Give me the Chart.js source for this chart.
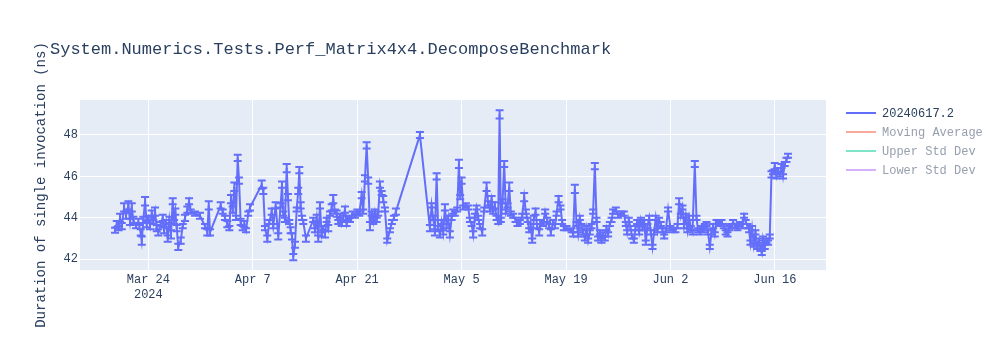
<!DOCTYPE html>
<html>
<head>
<meta charset="utf-8">
<title>System.Numerics.Tests.Perf_Matrix4x4.DecomposeBenchmark</title>
<script src="https://cdn.jsdelivr.net/npm/chart.js@4.4.1/dist/chart.umd.min.js"></script>
<style>
  html, body { margin: 0; padding: 0; background: #ffffff; }
  #wrap { position: relative; width: 1000px; height: 350px; font-family: 'Liberation Mono', 'Courier New', monospace; }
  #chart { position: absolute; left: 0; top: 0; }
  #title { position: absolute; left: 50px; top: 40px; font-size: 17px; line-height: 20px; color: #2a3f5f; white-space: pre; }
  .leg { position: absolute; left: 846px; height: 14px; font-size: 12px; line-height: 14px; white-space: pre; }
  .leg i { display: inline-block; width: 30px; height: 0; border-top: 2px solid; vertical-align: middle; margin-right: 6px; position: relative; top: -1px; }
</style>
</head>
<body>
<div id="wrap">
  <canvas id="chart" width="1000" height="350"></canvas>
  <div id="title">System.Numerics.Tests.Perf_Matrix4x4.DecomposeBenchmark</div>
  <div class="leg" style="top:107px;color:#2a3f5f"><i style="border-color:#636efa"></i>20240617.2</div>
  <div class="leg" style="top:126px;color:#959fad"><i style="border-color:#f7aa9d"></i>Moving Average</div>
  <div class="leg" style="top:145px;color:#959fad"><i style="border-color:#7fe5ca"></i>Upper Std Dev</div>
  <div class="leg" style="top:164px;color:#959fad"><i style="border-color:#d5b1fc"></i>Lower Std Dev</div>
</div>
<script>
// Run time of each benchmark run, in days after 2024-03-01 00:00
const runDay = [
  18.54, 18.77, 18.98, 19.21, 19.44, 19.75, 20.01, 20.32, 20.55, 20.78,
  20.99, 21.35, 21.66, 21.98, 22.12, 22.33, 22.56, 22.79, 23.00, 23.23,
  23.46, 23.67, 23.90, 24.13, 24.34, 24.66, 24.93, 25.11, 25.37, 25.60,
  25.82, 26.04, 26.27, 26.45, 26.62, 26.81, 27.02, 27.34, 27.61, 27.92,
  28.23, 28.46, 28.68, 29.26, 29.93, 30.60, 30.91, 31.10, 31.27, 32.70,
  32.97, 33.28, 33.59, 33.86, 34.08, 34.31, 34.53, 34.75, 34.98, 35.16,
  35.38, 35.65, 35.87, 36.09, 36.40, 36.63, 38.20, 38.41, 38.64, 38.95,
  39.22, 39.54, 39.75, 40.07, 40.42, 40.74, 40.92, 41.09, 41.32, 41.55,
  41.72, 41.90, 42.08, 42.26, 42.43, 42.66, 42.89, 43.10, 43.24, 43.42,
  43.60, 43.77, 44.13, 45.11, 45.34, 45.57, 45.78, 46.01, 46.24, 46.45,
  46.68, 46.91, 47.12, 47.35, 47.58, 47.79, 48.02, 48.25, 48.46, 48.69,
  48.92, 49.13, 49.36, 49.59, 49.80, 50.03, 50.39, 50.70, 51.01, 51.28,
  51.60, 51.81, 52.04, 52.27, 52.48, 52.71, 52.94, 53.15, 53.38, 53.61,
  53.82, 54.05, 54.28, 54.49, 54.72, 55.03, 55.39, 55.66, 55.93, 56.19,
  59.41, 60.75, 60.98, 61.19, 61.42, 61.65, 61.86, 62.09, 62.32, 62.53,
  62.76, 62.99, 63.20, 63.43, 63.66, 63.87, 64.10, 64.41, 64.64, 64.81,
  65.00, 65.21, 65.57, 65.88, 66.11, 66.34, 66.55, 66.78, 67.01, 67.22,
  67.45, 67.76, 68.03, 68.35, 68.56, 68.79, 69.02, 69.23, 69.46, 69.69,
  69.90, 70.09, 70.26, 70.49, 70.71, 70.93, 71.16, 71.38, 71.60, 71.91,
  72.23, 72.50, 72.81, 73.12, 73.39, 73.61, 73.84, 74.06, 74.28, 74.46,
  74.69, 74.91, 75.13, 75.40, 75.62, 75.93, 76.20, 76.47, 76.74, 76.96,
  77.27, 77.50, 77.73, 78.00, 78.26, 78.48, 78.71, 79.07, 79.74, 79.95,
  80.18, 80.41, 80.62, 80.85, 81.08, 81.29, 81.52, 81.75, 81.96, 82.19,
  82.42, 82.63, 82.86, 83.09, 83.30, 83.53, 83.76, 83.97, 84.20, 84.43,
  84.64, 84.87, 85.10, 85.31, 85.67, 85.98, 86.44, 86.75, 87.01, 87.19,
  87.42, 87.64, 87.86, 88.09, 88.31, 88.53, 88.80, 89.02, 89.25, 89.47,
  89.69, 89.92, 90.14, 90.36, 90.59, 90.81, 91.03, 91.26, 91.48, 91.70,
  91.93, 92.15, 92.37, 92.68, 93.00, 93.35, 93.67, 93.94, 94.16, 94.38,
  94.61, 94.83, 95.05, 95.28, 95.50, 95.72, 95.95, 96.26, 96.49, 96.70,
  96.93, 97.16, 97.37, 97.60, 97.83, 98.04, 98.27, 98.50, 98.71, 98.94,
  99.17, 99.48, 99.84, 100.15, 100.41, 100.64, 100.86, 101.18, 101.39, 101.71,
  101.98, 102.29, 102.60, 102.87, 103.09, 103.32, 103.54, 103.72, 103.94, 104.17,
  104.39, 104.61, 104.84, 105.07, 105.24, 105.41, 105.64, 105.87, 106.08, 106.31,
  106.54, 106.75, 106.98, 107.21, 107.42, 107.65, 107.88, 108.09, 108.32, 108.55,
  108.76
];

// Mean duration of a single invocation (ns) for each run
const duration = [
  43.4, 43.7, 43.5, 44.0, 43.6, 44.5, 44.1, 44.6, 43.8, 44.5,
  43.9, 43.6, 43.8, 43.3, 42.9, 43.9, 44.8, 43.7, 44.0, 43.6,
  44.2, 43.8, 44.3, 43.5, 43.3, 43.7, 44.0, 43.4, 43.8, 43.0,
  43.9, 43.2, 44.8, 43.8, 44.3, 43.5, 42.6, 42.9, 43.6, 44.0,
  44.4, 44.8, 44.3, 44.2, 44.1, 43.6, 43.3, 44.6, 43.3, 44.6,
  44.3, 44.0, 43.7, 43.5, 44.9, 44.4, 45.5, 44.0, 46.9, 45.8,
  43.8, 43.5, 43.7, 43.4, 44.2, 44.5, 45.6, 45.3, 43.5, 43.0,
  43.8, 44.3, 43.6, 44.6, 43.1, 44.6, 45.6, 44.2, 43.9, 46.4,
  45.0, 43.8, 43.4, 43.1, 42.1, 42.7, 44.4, 45.3, 46.3, 44.6,
  44.0, 43.8, 43.0, 43.9, 43.4, 44.0, 43.0, 44.6, 43.2, 43.5,
  43.2, 43.9, 43.5, 44.2, 44.5, 44.9, 44.3, 44.2, 43.8, 44.1,
  43.7, 44.0, 44.4, 43.7, 44.0, 43.9, 44.2, 44.1, 44.3, 44.2,
  45.1, 44.3, 45.9, 47.5, 45.8, 43.6, 44.2, 43.8, 44.3, 43.9,
  44.2, 45.6, 45.2, 44.9, 44.4, 42.9, 43.4, 43.8, 44.0, 44.3,
  48.0, 43.5, 44.6, 44.0, 43.3, 46.0, 43.5, 43.2, 43.8, 43.3,
  44.5, 43.6, 44.0, 43.2, 44.0, 44.3, 44.2, 44.4, 46.6, 45.0,
  45.8, 44.5, 44.6, 44.5, 43.9, 43.7, 43.2, 44.1, 44.5, 44.0,
  43.6, 43.3, 44.4, 45.5, 44.7, 44.4, 44.9, 44.3, 44.6, 44.0,
  43.8, 49.0, 43.9, 44.8, 46.6, 44.3, 44.6, 45.5, 44.2, 44.1,
  43.9, 43.7, 43.8, 44.1, 45.0, 44.3, 43.9, 43.4, 43.6, 42.9,
  44.0, 44.3, 43.6, 43.3, 43.8, 43.7, 44.3, 43.9, 43.6, 43.3,
  43.8, 43.6, 44.2, 44.9, 44.5, 43.8, 43.5, 43.5, 43.4, 43.2,
  45.4, 43.7, 43.2, 44.0, 43.6, 43.3, 43.0, 43.5, 42.9, 43.3,
  43.6, 44.3, 46.5, 43.9, 43.0, 43.3, 42.9, 43.2, 43.0, 43.5,
  43.2, 43.7, 43.9, 44.3, 44.4, 44.1, 44.2, 44.2, 43.7, 43.3,
  43.9, 43.5, 43.1, 42.9, 43.5, 43.8, 43.3, 43.9, 43.5, 43.8,
  42.8, 43.6, 44.0, 43.3, 42.6, 43.3, 44.0, 43.4, 43.9, 43.7,
  43.4, 43.1, 43.4, 44.4, 43.5, 43.4, 43.4, 43.6, 44.8, 44.1,
  44.5, 43.6, 44.1, 43.4, 44.0, 43.5, 43.3, 46.6, 44.0, 43.4,
  43.3, 43.5, 43.4, 43.6, 43.7, 43.3, 42.6, 43.3, 43.6, 43.2,
  43.8, 43.7, 43.8, 43.6, 43.3, 43.2, 43.5, 43.6, 43.8, 43.6,
  43.5, 43.7, 43.6, 44.1, 43.8, 43.6, 43.4, 42.8, 43.5, 42.7,
  43.3, 42.6, 42.9, 42.5, 42.3, 43.0, 42.6, 42.9, 42.8, 43.1,
  46.1, 46.2, 46.5, 46.0, 46.3, 46.1, 46.5, 46.0, 46.6, 46.8,
  47.0
];

// Half-width of the error bar on each run (ns)
const durationErr = [
  0.12, 0.15, 0.10, 0.20, 0.15, 0.20, 0.15, 0.20, 0.15, 0.20,
  0.15, 0.10, 0.15, 0.15, 0.20, 0.15, 0.20, 0.15, 0.10, 0.15,
  0.15, 0.10, 0.20, 0.15, 0.15, 0.10, 0.15, 0.15, 0.10, 0.15,
  0.15, 0.20, 0.15, 0.10, 0.15, 0.15, 0.15, 0.15, 0.10, 0.15,
  0.15, 0.15, 0.10, 0.10, 0.15, 0.10, 0.15, 0.20, 0.15, 0.15,
  0.10, 0.10, 0.15, 0.10, 0.20, 0.15, 0.20, 0.10, 0.15, 0.15,
  0.15, 0.10, 0.15, 0.10, 0.10, 0.15, 0.20, 0.15, 0.10, 0.15,
  0.10, 0.15, 0.10, 0.15, 0.15, 0.10, 0.15, 0.10, 0.10, 0.20,
  0.15, 0.10, 0.15, 0.15, 0.15, 0.15, 0.10, 0.15, 0.15, 0.15,
  0.10, 0.10, 0.15, 0.10, 0.10, 0.15, 0.15, 0.15, 0.10, 0.10,
  0.15, 0.10, 0.15, 0.10, 0.15, 0.20, 0.10, 0.15, 0.10, 0.10,
  0.10, 0.10, 0.15, 0.10, 0.10, 0.10, 0.10, 0.10, 0.10, 0.10,
  0.15, 0.10, 0.15, 0.15, 0.15, 0.20, 0.10, 0.10, 0.10, 0.10,
  0.10, 0.15, 0.10, 0.15, 0.10, 0.10, 0.10, 0.10, 0.10, 0.15,
  0.15, 0.15, 0.10, 0.10, 0.15, 0.15, 0.10, 0.15, 0.10, 0.10,
  0.15, 0.10, 0.10, 0.15, 0.10, 0.10, 0.10, 0.10, 0.20, 0.10,
  0.15, 0.10, 0.10, 0.10, 0.10, 0.10, 0.15, 0.10, 0.10, 0.10,
  0.10, 0.15, 0.10, 0.20, 0.10, 0.10, 0.15, 0.10, 0.15, 0.10,
  0.10, 0.20, 0.10, 0.10, 0.15, 0.10, 0.10, 0.20, 0.10, 0.10,
  0.10, 0.10, 0.10, 0.10, 0.20, 0.10, 0.10, 0.10, 0.10, 0.10,
  0.10, 0.15, 0.10, 0.15, 0.10, 0.10, 0.10, 0.10, 0.10, 0.15,
  0.10, 0.10, 0.10, 0.15, 0.10, 0.10, 0.10, 0.10, 0.10, 0.10,
  0.20, 0.10, 0.10, 0.10, 0.10, 0.10, 0.10, 0.10, 0.10, 0.10,
  0.10, 0.10, 0.15, 0.10, 0.10, 0.10, 0.10, 0.10, 0.10, 0.10,
  0.10, 0.10, 0.10, 0.10, 0.10, 0.10, 0.10, 0.10, 0.10, 0.10,
  0.10, 0.10, 0.10, 0.10, 0.10, 0.10, 0.10, 0.10, 0.10, 0.10,
  0.10, 0.10, 0.10, 0.10, 0.10, 0.10, 0.10, 0.10, 0.10, 0.10,
  0.10, 0.10, 0.10, 0.10, 0.10, 0.10, 0.10, 0.10, 0.15, 0.10,
  0.10, 0.10, 0.10, 0.10, 0.10, 0.10, 0.10, 0.15, 0.10, 0.10,
  0.10, 0.10, 0.10, 0.10, 0.10, 0.10, 0.10, 0.10, 0.10, 0.10,
  0.10, 0.10, 0.10, 0.10, 0.10, 0.10, 0.10, 0.10, 0.10, 0.10,
  0.10, 0.10, 0.10, 0.10, 0.10, 0.10, 0.10, 0.10, 0.10, 0.10,
  0.10, 0.10, 0.10, 0.10, 0.10, 0.10, 0.10, 0.10, 0.10, 0.10,
  0.15, 0.10, 0.15, 0.10, 0.10, 0.10, 0.10, 0.10, 0.10, 0.10,
  0.10
];

// Date ticks on the time axis (days after 2024-03-01) and their labels
const tickDays = [23, 37, 51, 65, 79, 93, 107];
const tickLabels = [['Mar 24', '2024'], 'Apr 7', 'Apr 21', 'May 5', 'May 19', 'Jun 2', 'Jun 16'];

// Duration ticks (ns)
const durationTicks = [42, 44, 46, 48];

const FONT = "'Liberation Mono', 'Courier New', monospace";
const INK = '#2a3f5f';
const SERIES_COLOR = '#636efa';

// Pale blue plotting area behind the grid
const plotBackground = {
  id: 'plotBackground',
  beforeDraw(chart) {
    const { ctx, chartArea: a } = chart;
    ctx.save();
    ctx.fillStyle = '#e5ecf6';
    ctx.fillRect(a.left, a.top, a.right - a.left, a.bottom - a.top);
    ctx.restore();
  }
};

// Vertical error bars with end caps, placed through the chart's scales
const errorBars = {
  id: 'errorBars',
  afterDatasetsDraw(chart) {
    const { ctx, chartArea: a, scales: { x, y } } = chart;
    ctx.save();
    ctx.beginPath();
    ctx.rect(a.left, a.top, a.right - a.left, a.bottom - a.top);
    ctx.clip();
    ctx.strokeStyle = SERIES_COLOR;
    ctx.lineWidth = 2;
    const cap = 4;
    runDay.forEach((d, i) => {
      const e = durationErr[i];
      if (e === undefined) return;
      const px = x.getPixelForValue(d);
      const top = y.getPixelForValue(duration[i] + e);
      const bot = y.getPixelForValue(duration[i] - e);
      ctx.beginPath();
      ctx.moveTo(px, top); ctx.lineTo(px, bot);
      ctx.moveTo(px - cap, top); ctx.lineTo(px + cap, top);
      ctx.moveTo(px - cap, bot); ctx.lineTo(px + cap, bot);
      ctx.stroke();
    });
    ctx.restore();
  }
};

new Chart(document.getElementById('chart'), {
  type: 'line',
  data: {
    datasets: [{
      label: '20240617.2',
      data: runDay.map((d, i) => ({ x: d, y: duration[i] })),
      borderColor: SERIES_COLOR,
      backgroundColor: SERIES_COLOR,
      borderWidth: 2,
      pointRadius: 0,
      tension: 0,
      fill: false
    }]
  },
  options: {
    responsive: false,
    animation: false,
    devicePixelRatio: 1,
    layout: { padding: { left: 0, right: 174, top: 100, bottom: 0 } },
    plugins: {
      legend: { display: false },
      tooltip: { enabled: false },
      title: { display: false }
    },
    scales: {
      x: {
        type: 'linear',
        min: 13.84,
        max: 113.85,
        afterBuildTicks: (scale) => { scale.ticks = tickDays.map(v => ({ value: v })); },
        afterFit: (scale) => { scale.height = 80; },
        grid: { color: '#ffffff', lineWidth: 1, drawTicks: false },
        border: { display: false },
        ticks: {
          autoSkip: false,
          maxRotation: 0,
          padding: 3,
          color: INK,
          font: { family: FONT, size: 12 },
          callback: (value, index) => tickLabels[index]
        }
      },
      y: {
        min: 41.48,
        max: 49.69,
        afterBuildTicks: (scale) => { scale.ticks = durationTicks.map(v => ({ value: v })); },
        afterFit: (scale) => { scale.width = 80; },
        grid: { color: '#ffffff', lineWidth: 1, drawTicks: false },
        border: { display: false },
        ticks: {
          padding: 2,
          color: INK,
          font: { family: FONT, size: 12 },
          callback: (value) => String(value)
        },
        title: {
          display: true,
          text: 'Duration of single invocation (ns)',
          color: INK,
          font: { family: FONT, size: 14 },
          padding: { top: 33, bottom: 0 }
        }
      }
    }
  },
  plugins: [plotBackground, errorBars]
});
</script>
</body>
</html>
